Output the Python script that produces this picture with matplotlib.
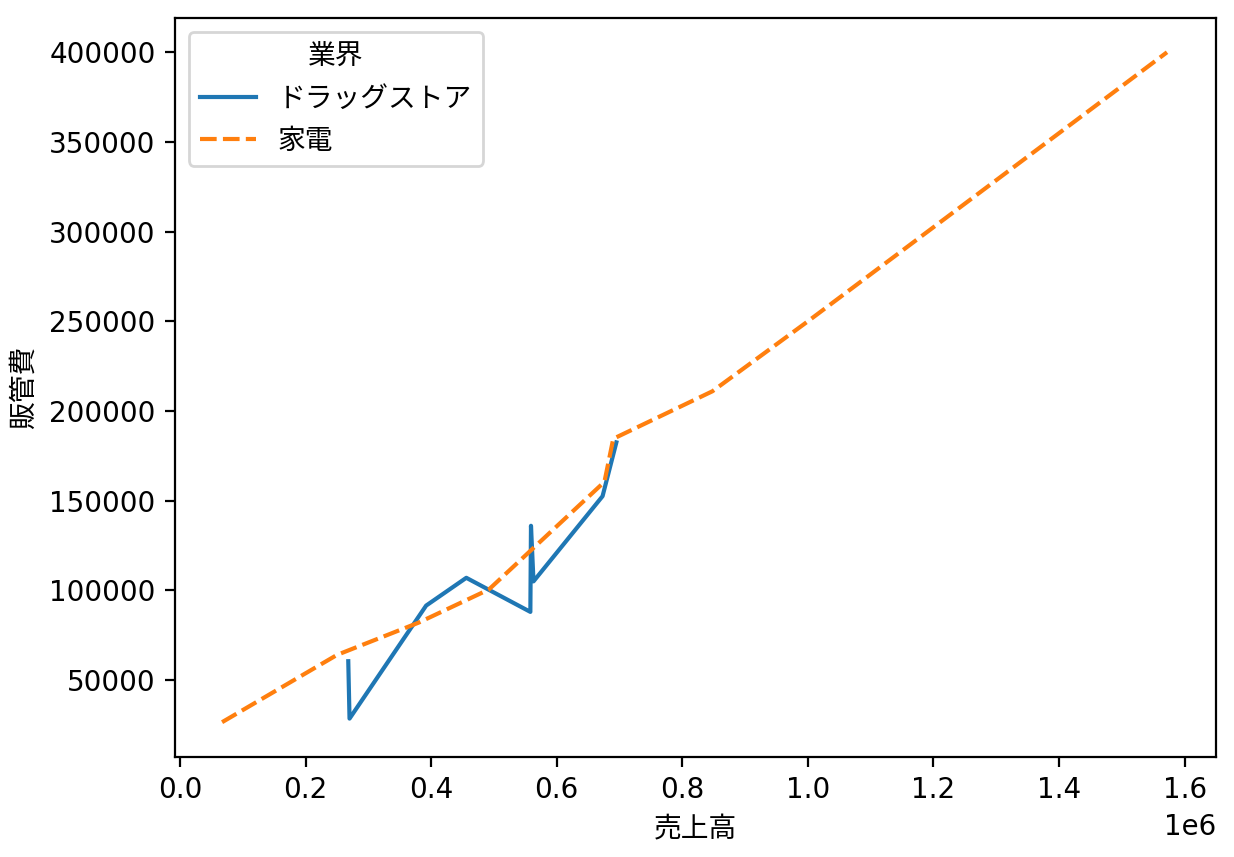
import matplotlib
matplotlib.use("Agg")
import matplotlib.pyplot as plt
import seaborn as sns
import pandas as pd

# Data
drug_sales = [268000, 270000, 392000, 456000, 558000, 559000, 563000, 673000, 695000]
drug_sga = [60500, 28500, 91500, 107000, 88000, 136000, 105000, 152500, 182500]
elec_sales = [67000, 250000, 380000, 492000, 676000, 690000, 848000, 1000000, 1572000]
elec_sga = [26500, 64000, 82000, 100500, 160500, 184500, 211000, 250000, 400000]
industries = ["ドラッグストア", "家電"]

plt.rcParams['font.family'] = ['DejaVu Sans', 'Noto Sans CJK JP']

df = pd.DataFrame({
    "売上高": drug_sales + elec_sales,
    "販管費": drug_sga + elec_sga,
    "業界": [industries[0]] * len(drug_sales) + [industries[1]] * len(elec_sales),
})

fig = plt.figure(figsize=(6.17, 4.285), dpi=200)
ax = fig.add_axes([0.1418, 0.1167, 0.9854 - 0.1418, 0.979 - 0.1167])
sns.lineplot(data=df, x="売上高", y="販管費", hue="業界", style="業界", ax=ax)
ax.set_ylim(7100, 419100)
ax.set_xlim(-8000, 1650000)
fig.savefig("out.png", dpi=200)
